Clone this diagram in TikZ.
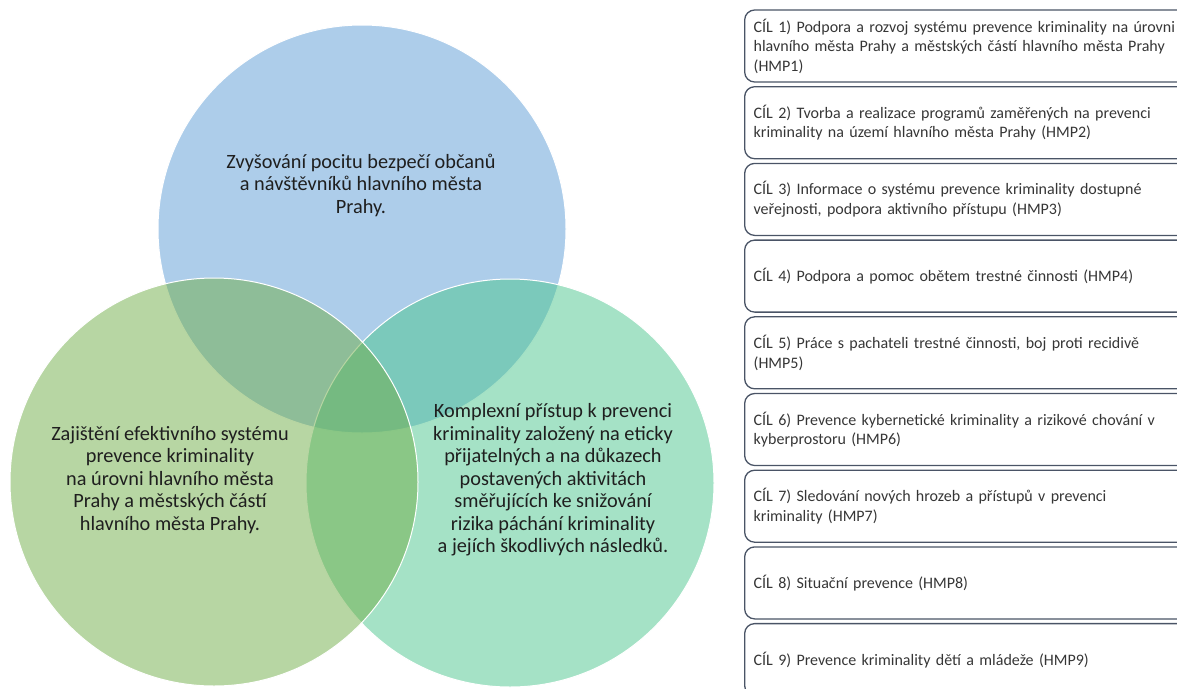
\documentclass[tikz,border=0pt]{standalone}
\usepackage{fontspec}
\setmainfont{Carlito}
\usetikzlibrary{positioning}
\definecolor{vennblue}{HTML}{5B9BD5}
\definecolor{venngreen}{HTML}{70AD47}
\definecolor{vennteal}{HTML}{4BC58D}
\definecolor{goalline}{HTML}{4A5466}
\definecolor{goaltext}{HTML}{363636}
\tikzset{
venn/.style={circle, minimum size=408pt, inner sep=0pt, draw=white, line width=1pt, fill opacity=0.5}, % one circle of the Venn diagram
venntext/.style={align=center, font=\fontsize{20.3}{22.5}\selectfont, text=black!88}, % text placed inside a circle
goal/.style={draw=goalline, line width=1.3pt, rounded corners=10pt, minimum height=72pt, text width=430pt, inner xsep=9pt, align=left, anchor=west, font=\fontsize{16}{19.5}\selectfont, text=goaltext}, % one box of the goal list
}

\begin{document}
\begin{tikzpicture}[
  x=1pt,
  y=-1pt,
  node distance=3.4pt
]
  \useasboundingbox (0,0) rectangle (1177,688);
  \clip (0,0) rectangle (1177,688);
  % circles
  \node[venn, fill=vennblue] (bezpeci) at (362,229) {};
  \node[venn, fill=vennteal] (pristup) at (510,483) {};
  \node[venn, fill=venngreen] (system) at (214,482) {};
  % circle texts
  \node[venntext] (bezpecitext) at (361,185) {Zvyšování pocitu bezpečí občanů\\a návštěvníků hlavního města\\Prahy.};
  \node[venntext] (systemtext) at (170,480) {Zajištění efektivního systému\\prevence kriminality\\na úrovni hlavního města\\Prahy a městských částí\\hlavního města Prahy.};
  \node[venntext] (pristuptext) at (553,480) {Komplexní přístup k prevenci\\kriminality založený na eticky\\přijatelných a na důkazech\\postavených aktivitách\\směřujících ke snižování\\rizika páchání kriminality\\a jejích škodlivých následků.};
  % goals
  \node[goal] (cil1) at (744,46) {CÍL 1) Podpora a rozvoj systému prevence kriminality na úrovni\\hlavního města Prahy a městských částí hlavního města Prahy\\(HMP1)};
  \node[goal, below=of cil1] (cil2) {CÍL 2) Tvorba a realizace programů zaměřených na prevenci\\kriminality na území hlavního města Prahy (HMP2)};
  \node[goal, below=of cil2] (cil3) {CÍL 3) Informace o systému prevence kriminality dostupné\\veřejnosti, podpora aktivního přístupu (HMP3)};
  \node[goal, below=of cil3] (cil4) {CÍL 4) Podpora a pomoc obětem trestné činnosti (HMP4)};
  \node[goal, below=of cil4] (cil5) {CÍL 5) Práce s pachateli trestné činnosti, boj proti recidivě\\(HMP5)};
  \node[goal, below=of cil5] (cil6) {CÍL 6) Prevence kybernetické kriminality a rizikové chování v\\kyberprostoru (HMP6)};
  \node[goal, below=of cil6] (cil7) {CÍL 7) Sledování nových hrozeb a přístupů v prevenci\\kriminality (HMP7)};
  \node[goal, below=of cil7] (cil8) {CÍL 8) Situační prevence (HMP8)};
  \node[goal, below=of cil8] (cil9) {CÍL 9) Prevence kriminality dětí a mládeže (HMP9)};
\end{tikzpicture}
\end{document}
